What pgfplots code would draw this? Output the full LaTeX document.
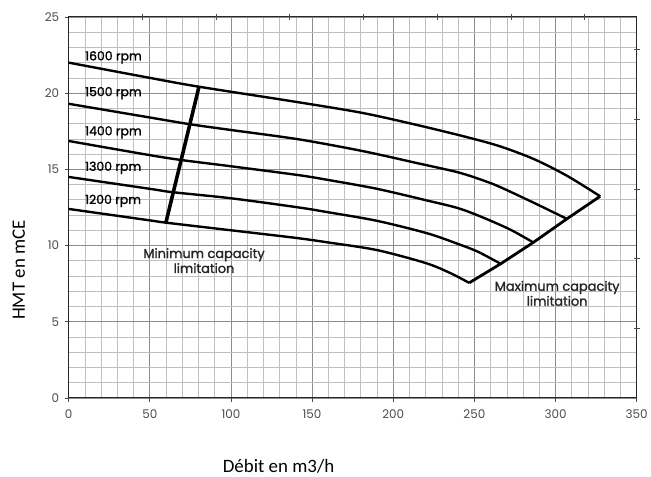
\documentclass[border=0pt]{standalone}
\usepackage{fontspec}
\setmainfont{Poppins}
\newfontfamily\medfont{Poppins}[FakeBold=1.5]
\newfontfamily\calibri{Carlito}
\usepackage{pgfplots}
\pgfplotsset{compat=1.18}
\begin{document}
\begin{tikzpicture}
\begin{axis}[
  name=main,
  scale only axis, width=571pt, height=383pt,
  xmin=0, xmax=350, ymin=0, ymax=25,
  xtick={0,50,...,350}, ytick={0,5,...,25},
  minor x tick num=4, minor y tick num=4,
  grid=both,
  major grid style={black!45, line width=0.7pt},
  minor grid style={black!25, line width=0.6pt},
  axis line style={black!85, line width=1pt},
  xtick pos=bottom, ytick pos=left,
  tick align=outside, major tick length=4pt, minor tick length=0pt,
  tick style={black!70, line width=0.7pt},
  ticklabel style={font=\fontsize{12}{14}\selectfont, text=black!70},
  x tick label style={yshift=-4pt},
  y tick label style={xshift=-2pt},
  /pgf/number format/assume math mode=true,
  clip=false,
]
% 1600 rpm
\addplot[black, line width=2.4pt, smooth] coordinates {
 (0,22.0) (50,21.0) (80.3,20.42) (141.6,19.4) (181,18.7) (215,17.9)
 (245.8,17.1) (266,16.5) (286.7,15.67) (307,14.58) (327.5,13.23)};
% 1500 rpm
\addplot[black, line width=2.4pt, smooth] coordinates {
 (0,19.3) (50,18.4) (75.2,17.95) (100,17.58) (141.6,16.97) (181,16.2)
 (215,15.4) (240,14.8) (256,14.25) (266.2,13.82) (286.7,12.8) (307,11.75)};
% 1400 rpm
\addplot[black, line width=2.4pt, smooth] coordinates {
 (0,16.86) (50,15.93) (70.1,15.6) (100,15.2) (141.6,14.62) (160,14.3)
 (190,13.72) (221,12.95) (240,12.45) (255,11.85) (272,11.05) (286.3,10.2)};
% 1300 rpm
\addplot[black, line width=2.4pt, smooth] coordinates {
 (0,14.5) (50,13.72) (64,13.5) (100,13.1) (141.6,12.5) (160,12.18)
 (190,11.62) (221,10.8) (240,10.1) (252,9.6) (266.2,8.8)};
% 1200 rpm
\addplot[black, line width=2.4pt, smooth] coordinates {
 (0,12.4) (50,11.65) (59.9,11.5) (100,11.0) (140,10.5) (160,10.2)
 (190,9.7) (220,8.85) (235,8.2) (246.8,7.55)};
% minimum capacity limitation
\addplot[black, line width=3.6pt] coordinates {(80.3,20.41) (59.9,11.49)};
% maximum capacity limitation
\addplot[black, line width=2.8pt, line join=miter] coordinates {
 (246.8,7.55) (266.2,8.8) (286.3,10.2) (307,11.75) (327.5,13.23)};

\node[anchor=base west, font=\medfont\fontsize{12.5}{14}\selectfont] at (axis cs:8,22.15) {1600 rpm};
\node[anchor=base west, font=\medfont\fontsize{12.5}{14}\selectfont] at (axis cs:8,19.8) {1500 rpm};
\node[anchor=base west, font=\medfont\fontsize{12.5}{14}\selectfont] at (axis cs:8,17.23) {1400 rpm};
\node[anchor=base west, font=\medfont\fontsize{12.5}{14}\selectfont] at (axis cs:8,14.9) {1300 rpm};
\node[anchor=base west, font=\medfont\fontsize{12.5}{14}\selectfont] at (axis cs:8,12.73) {1200 rpm};

\node[anchor=base, font=\medfont\fontsize{13}{15}\selectfont, text=black!85] at (axis cs:83.4,9.18) {Minimum capacity};
\node[anchor=base, font=\medfont\fontsize{13}{15}\selectfont, text=black!85] at (axis cs:83.4,8.2) {limitation};
\node[anchor=base, font=\medfont\fontsize{13}{15}\selectfont, text=black!85] at (axis cs:301,7.03) {Maximum capacity};
\node[anchor=base, font=\medfont\fontsize{13}{15}\selectfont, text=black!85] at (axis cs:301,6.05) {limitation};
\end{axis}
\begin{axis}[
  at={(main.south west)}, anchor=south west,
  scale only axis, width=571pt, height=383pt,
  xmin=0, xmax=350, ymin=0, ymax=25,
  axis x line*=top, axis y line*=right,
  axis line style={draw=none},
  xtick={45.42,90.85,136.27,181.7,227.12,272.55,317.97},
  ytick={4.572,9.144,13.716,18.288,22.86},
  xticklabels={}, yticklabels={},
  tick align=center, major tick length=6pt, minor tick length=0pt,
  tick style={black!70, line width=0.7pt},
]
\end{axis}
\node[rotate=90, font=\calibri\fontsize{19}{22}\selectfont] at ([shift={(-50pt,128.5pt)}]main.south west) {HMT en mCE};
\node[anchor=base, font=\calibri\fontsize{19}{22}\selectfont] at ([shift={(211pt,-75pt)}]main.south west) {Débit en m3/h};
\path ([shift={(-69pt,-79pt)}]main.south west) rectangle ([shift={(11pt,17pt)}]main.north east);
\end{tikzpicture}
\end{document}
